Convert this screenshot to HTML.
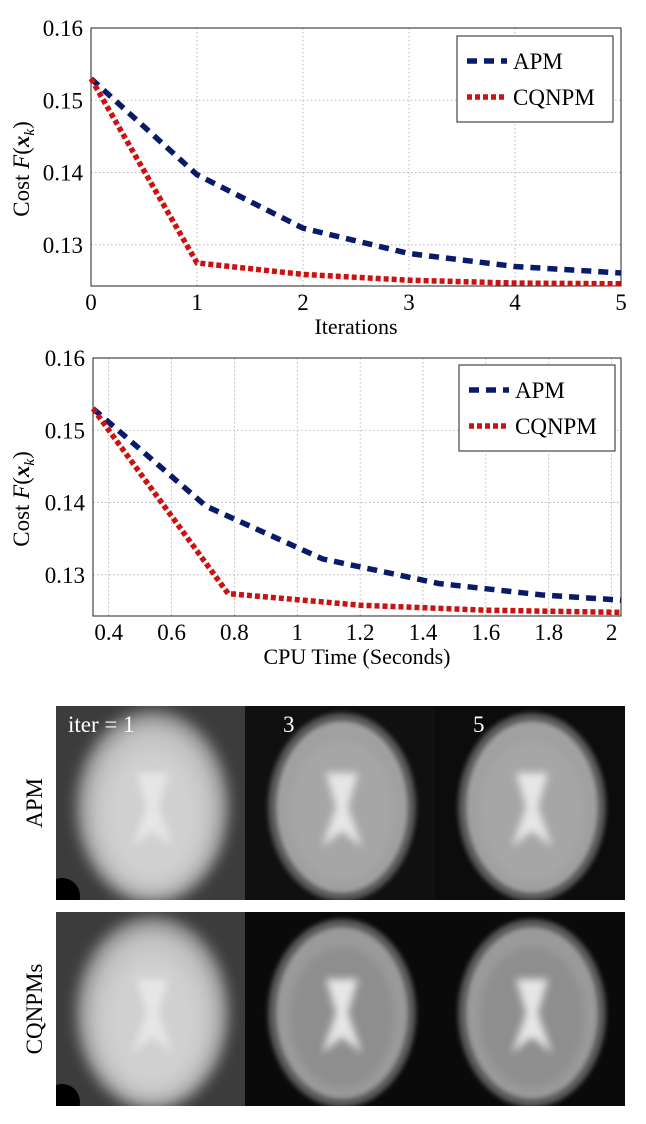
<!DOCTYPE html>
<html><head><meta charset="utf-8">
<style>
html,body{margin:0;padding:0;background:#fff;width:646px;height:1124px;overflow:hidden}
svg text{font-family:"Liberation Serif",serif;fill:#000}
</style></head>
<body>
<svg id="root" width="646" height="1124" viewBox="0 0 646 1124">
<defs>
<filter id="blur8"><feGaussianBlur stdDeviation="7"/></filter>
<filter id="blur4"><feGaussianBlur stdDeviation="4"/></filter>
<filter id="blur2"><feGaussianBlur stdDeviation="2.5"/></filter>
</defs>
<g id="chart1"></g>
<g id="chart2"></g>
<g id="images"></g>
</svg>
<script>
// Chart 1 data
const iterX = [0, 1, 2, 3, 4, 5];
const iterApm = [0.153, 0.1397, 0.1323, 0.1288, 0.1270, 0.1261];
const iterCq = [0.153, 0.1275, 0.1259, 0.1251, 0.1247, 0.1246];
const iterTicks = ["0", "1", "2", "3", "4", "5"];
// Chart 2 data
const cpuApmX = [0.35, 0.71, 1.08, 1.45, 1.78, 2.03];
const cpuApmY = [0.153, 0.1395, 0.1322, 0.1288, 0.1272, 0.1265];
const cpuCqX = [0.35, 0.78, 1.2, 1.6, 2.03];
const cpuCqY = [0.153, 0.1274, 0.1258, 0.1251, 0.1248];
const cpuTicks = [0.4, 0.6, 0.8, 1, 1.2, 1.4, 1.6, 1.8, 2];
const yTicks = [0.16, 0.15, 0.14, 0.13];

const NS = "http://www.w3.org/2000/svg";
function mk(parent, tag, attrs, text) {
  const e = document.createElementNS(NS, tag);
  for (const k in attrs) e.setAttribute(k, attrs[k]);
  if (text !== undefined) e.textContent = text;
  parent.appendChild(e);
  return e;
}

function drawChart(g, cfg) {
  const sx = v => cfg.x0 + (v - cfg.xmin) / (cfg.xmax - cfg.xmin) * (cfg.x1 - cfg.x0);
  const sy = v => cfg.y1 - (v - cfg.ymin) / (cfg.ymax - cfg.ymin) * (cfg.y1 - cfg.y0);
  cfg.xt.forEach(t => {
    const l = mk(g, "line", {x1: sx(t), x2: sx(t), y1: cfg.y0, y2: cfg.y1, stroke: "#aaa", "stroke-width": 0.8, "stroke-dasharray": "1.5,2.5"});
    
    
    const tx = mk(g, "text", {x: sx(t), y: cfg.y1 + 24, "text-anchor": "middle", "font-size": 23}, String(t));
    
    
  });
  yTicks.forEach(t => {
    const l = mk(g, "line", {x1: cfg.x0, x2: cfg.x1, y1: sy(t), y2: sy(t), stroke: "#aaa", "stroke-width": 0.8, "stroke-dasharray": "1.5,2.5"});
    
    
    const tx = mk(g, "text", {x: cfg.x0 - 8, y: sy(t) + 8, "text-anchor": "end", "font-size": 23}, t.toFixed(2));
    
    
  });
  const box = mk(g, "rect", {x: cfg.x0, y: cfg.y0, width: cfg.x1 - cfg.x0, height: cfg.y1 - cfg.y0, fill: "none", stroke: "#222", "stroke-width": 1});
  
  
  cfg.series.forEach(s => {
    const pts = s.x.map((v, i) => sx(v).toFixed(1) + "," + sy(s.y[i]).toFixed(1)).join(" ");
    const p = mk(g, "polyline", {points: pts, fill: "none", stroke: s.color, "stroke-width": 5.5, "stroke-dasharray": s.dash});
    
    
  });
  const xl = mk(g, "text", {x: (cfg.x0 + cfg.x1) / 2, y: cfg.y1 + 48, "text-anchor": "middle", "font-size": 22}, cfg.xlabel);
  
  
  const yl = mk(g, "text", {transform: `translate(29,${(cfg.y0 + cfg.y1) / 2 + 12}) rotate(-90)`, "text-anchor": "middle", "font-size": 23});
  
  
  yl.innerHTML = 'Cost <tspan font-style="italic">F</tspan>(<tspan font-weight="bold" font-style="italic">x</tspan><tspan font-style="italic" font-size="15" dy="5">k</tspan><tspan dy="-5">)</tspan>';
  const lg = mk(g, "g", {});
  
  
  mk(lg, "rect", {x: cfg.lx, y: cfg.ly, width: 156, height: 86, fill: "#fff", stroke: "#222", "stroke-width": 1});
  cfg.series.forEach((s, i) => {
    const yy = cfg.ly + 25 + i * 36;
    const e = mk(lg, "g", {});
    
    
    mk(e, "line", {x1: cfg.lx + 10, x2: cfg.lx + 50, y1: yy, y2: yy, stroke: s.color, "stroke-width": 5.5, "stroke-dasharray": s.dash});
    mk(e, "text", {x: cfg.lx + 56, y: yy + 8, "font-size": 23}, s.label);
  });
}

drawChart(document.getElementById("chart1"), {
  x0: 91, x1: 621, y0: 28, y1: 286, xmin: 0, xmax: 5, ymin: 0.1243, ymax: 0.16,
  xt: iterX, xlabel: "Iterations", lx: 457, ly: 36,
  series: [
    {x: iterX, y: iterApm, color: "#0a1a6a", dash: "10,7", name: "apm-line", label: "APM"},
    {x: iterX, y: iterCq, color: "#cc1111", dash: "5,3", name: "cqnpm-line", label: "CQNPM"}
  ]
});
drawChart(document.getElementById("chart2"), {
  x0: 93, x1: 621, y0: 358, y1: 616, xmin: 0.35, xmax: 2.03, ymin: 0.1243, ymax: 0.16,
  xt: cpuTicks, xlabel: "CPU Time (Seconds)", lx: 459, ly: 365,
  series: [
    {x: cpuApmX, y: cpuApmY, color: "#0a1a6a", dash: "10,7", name: "apm-line", label: "APM"},
    {x: cpuCqX, y: cpuCqY, color: "#cc1111", dash: "5,3", name: "cqnpm-line", label: "CQNPM"}
  ]
});

const imgs = document.getElementById("images");
const cols = [[56, 245], [245, 435], [435, 625]];
const rows = [[706, 900], [912, 1106]];
const bgs = [["#3c3c3c", "#101010", "#0c0c0c"], ["#3c3c3c", "#0a0a0a", "#0a0a0a"]];
const colLabels = ["iter = 1", "3", "5"];
rows.forEach((r, ri) => {
  cols.forEach((c, ci) => {
    const g = mk(imgs, "g", {});
    
    
    const w = c[1] - c[0], h = r[1] - r[0];
    const cid = "clip" + ri + ci;
    const cp = mk(g, "clipPath", {id: cid});
    mk(cp, "rect", {x: c[0], y: r[0], width: w, height: h});
    const inner = mk(g, "g", {"clip-path": `url(#${cid})`});
    mk(inner, "rect", {x: c[0], y: r[0], width: w, height: h, fill: bgs[ri][ci]});
    const cx = c[0] + w / 2 + 2, cy = r[0] + h / 2 + 4;
    if (ci === 0) {
      mk(inner, "ellipse", {cx, cy, rx: 76, ry: 96, fill: "#9a9a9a", filter: "url(#blur8)"});
      mk(inner, "ellipse", {cx, cy: cy + 3, rx: 64, ry: 84, fill: "#c4c4c4", filter: "url(#blur8)"});
      mk(inner, "ellipse", {cx, cy: cy + 8, rx: 48, ry: 66, fill: "#d0d0d0", filter: "url(#blur8)"});
      mk(inner, "circle", {cx: c[0] + 6, cy: r[1] - 4, r: 18, fill: "#000"});
    } else {
      mk(inner, "ellipse", {cx, cy, rx: 74, ry: 94, fill: "#585858", filter: "url(#blur2)"});
      mk(inner, "ellipse", {cx, cy, rx: 66, ry: 86, fill: ri === 1 ? "#9a9a9a" : "#a0a0a0", filter: "url(#blur2)"});
      mk(inner, "ellipse", {cx, cy: cy + 4, rx: 52, ry: 70, fill: ri === 1 ? "#8e8e8e" : "#a6a6a6", filter: "url(#blur4)"});
    }
    mk(inner, "path", {d: `M${cx-16},${cy-34} L${cx+16},${cy-34} L${cx+6},${cy} L${cx+20},${cy+40} L${cx},${cy+24} L${cx-20},${cy+40} L${cx-6},${cy} Z`, fill: "#e6e6e6", filter: "url(#blur4)"});
    if (ri === 0) {
      const t = mk(g, "text", {x: ci === 0 ? c[0] + 12 : c[0] + 38, y: r[0] + 26, "font-size": 23, style: "fill:#fff"}, colLabels[ci]);
      
      
    }
  });
});
const rl1 = mk(imgs, "text", {transform: "translate(42,803) rotate(-90)", "text-anchor": "middle", "font-size": 23}, "APM");


const rl2 = mk(imgs, "text", {transform: "translate(42,1009) rotate(-90)", "text-anchor": "middle", "font-size": 23}, "CQNPMs");


</script>
</body></html>
